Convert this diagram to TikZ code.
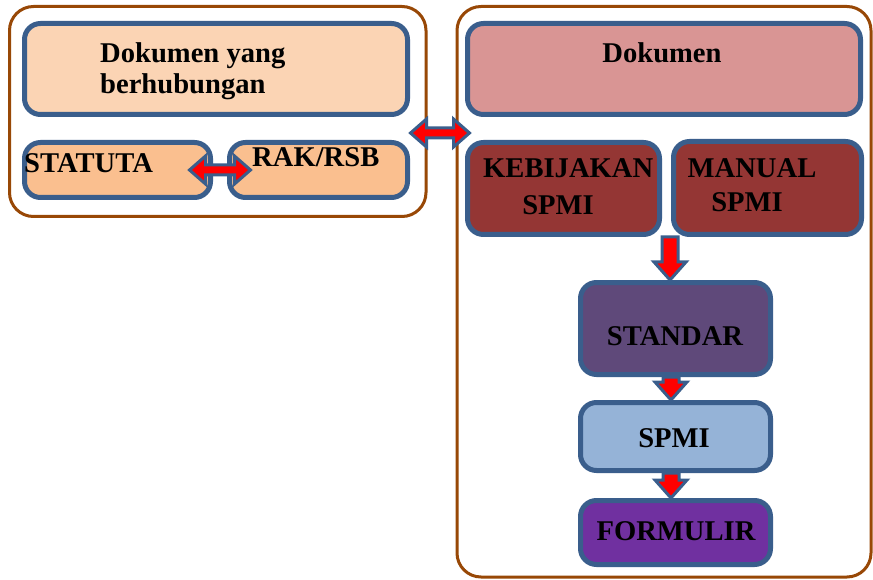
\documentclass[tikz,border=0pt]{standalone}
\usepackage{fontspec}
\setmainfont{Liberation Serif}
\usetikzlibrary{calc}
\definecolor{brownc}{HTML}{984806}
\definecolor{blueo}{HTML}{3A5E8C}
\definecolor{peach}{HTML}{FBD4B4}
\definecolor{peachd}{HTML}{FABF8F}
\definecolor{rose}{HTML}{D99594}
\definecolor{darkred}{HTML}{943634}
\definecolor{plum}{HTML}{5F497A}
\definecolor{lblue}{HTML}{95B3D7}
\definecolor{violet}{HTML}{7030A0}
\tikzset{
  container/.style={draw=brownc, line width=3pt, rounded corners=24pt, inner sep=0pt},
  box/.style={draw=blueo, line width=5pt, rounded corners=16pt, inner sep=0pt},
  lbl/.style={inner sep=0pt, font=\bfseries\fontsize{28.6}{31}\selectfont, text=black},
  blockarrow/.style={fill=red, draw=blueo, line width=3pt, line join=miter},
}
\newcommand\varr[2]{\path[blockarrow] let \p1=#1, \p2=#2 in
  (\x2-8pt,\y1) -- (\x2+8pt,\y1) -- (\x2+8pt,\y2+18pt) -- (\x2+16pt,\y2+18pt) -- (\x2,\y2)
  -- (\x2-16pt,\y2+18pt) -- (\x2-8pt,\y2+18pt) -- cycle;}
\newcommand\harr[2]{\path[blockarrow] let \p1=#1, \p2=#2 in
  (\x1,\y1) -- (\x1+16pt,\y1+14pt) -- (\x1+16pt,\y1+5pt) -- (\x2-16pt,\y1+5pt) -- (\x2-16pt,\y1+14pt)
  -- (\x2,\y1) -- (\x2-16pt,\y1-14pt) -- (\x2-16pt,\y1-5pt) -- (\x1+16pt,\y1-5pt) -- (\x1+16pt,\y1-14pt) -- cycle;}
\begin{document}
\begin{tikzpicture}[x=1pt,y=-1pt]
\useasboundingbox (0,0) rectangle (873,580);
\fill[white] (0,0) rectangle (873,580);
% containers
\node[container, minimum width=416.5pt, minimum height=210pt] (leftc) at (217.75,111.5) {};
\node[container, minimum width=414pt, minimum height=570.5pt] (rightc) at (664,291.75) {};
% left boxes
\node[box, fill=peach, minimum width=383pt, minimum height=91pt] (dyb) at (216,69) {};
\node[box, fill=peachd, minimum width=186pt, minimum height=55pt] (stat) at (117.5,170) {};
\node[box, fill=peachd, minimum width=178pt, minimum height=55pt] (rak) at (318.5,170) {};
% right boxes
\node[box, fill=rose, minimum width=393pt, minimum height=91pt] (dok) at (664,69) {};
\node[box, fill=darkred, minimum width=192pt, minimum height=92pt] (keb) at (563.5,188.5) {};
\node[box, fill=darkred, minimum width=188pt, minimum height=93pt] (man) at (767.5,188) {};
\node[box, fill=plum, minimum width=190pt, minimum height=92pt] (std) at (675.5,328.5) {};
\node[box, fill=lblue, minimum width=190pt, minimum height=68pt] (spmi) at (675.5,436.5) {};
\node[box, fill=violet, minimum width=190pt, minimum height=64pt] (form) at (675.5,532.5) {};
% labels
\node[lbl, anchor=base west] (t1) at (100,63) {Dokumen yang};
\node[lbl, anchor=base west] (t2) at (100,94) {berhubungan};
\node[lbl, anchor=base west] (t3) at (24,173) {STATUTA};
\node[lbl, anchor=base west] (t4) at (252,167) {RAK/RSB};
\node[lbl, anchor=base] (t5) at (662,63) {Dokumen};
\node[lbl, anchor=base west] (t6) at (483,178) {KEBIJAKAN};
\node[lbl, anchor=base] (t7) at (558,215) {SPMI};
\node[lbl, anchor=base] (t8) at (752,178) {MANUAL};
\node[lbl, anchor=base] (t9) at (747,212) {SPMI};
\node[lbl, anchor=base] (t10) at (675,345) {STANDAR};
\node[lbl, anchor=base] (t11) at (674,447) {SPMI};
\node[lbl, anchor=base] (t12) at (676,540) {FORMULIR};
% block arrows
\harr{([xshift=-23.5pt]stat.east)}{([xshift=23.5pt]rak.west)}
\harr{([xshift=-17pt,yshift=-21.5pt]leftc.east)}{([xshift=14pt]rightc.west)}
\varr{(keb.south)}{([xshift=-5.5pt]std.north)}
\varr{(std.south)}{([xshift=-4.5pt]spmi.north)}
\varr{(spmi.south)}{([xshift=-4.5pt]form.north)}
\end{tikzpicture}
\end{document}
